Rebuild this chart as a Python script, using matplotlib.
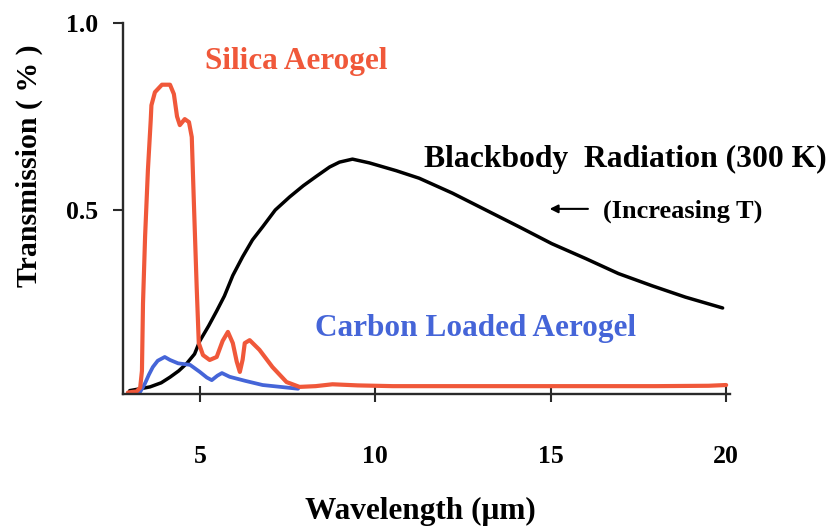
import matplotlib
matplotlib.use("Agg")
import matplotlib.pyplot as plt

# values
silica_x = [2.95, 3.2, 3.3, 3.35, 3.38, 3.44, 3.52, 3.6, 3.62, 3.72, 3.92, 4.15, 4.26, 4.35,
            4.43, 4.57, 4.69, 4.77, 4.83, 4.91, 4.97, 5.09, 5.28, 5.48, 5.65, 5.8, 5.94, 6.05,
            6.14, 6.22, 6.28, 6.42, 6.7, 7.07, 7.47, 7.84, 8.3, 8.78, 9.5, 10.5, 12, 14, 16,
            18, 19.5, 20.0]
silica_y = [0.012, 0.015, 0.025, 0.07, 0.25, 0.43, 0.607, 0.74, 0.78, 0.815, 0.835, 0.835, 0.81,
            0.75, 0.727, 0.743, 0.735, 0.695, 0.52, 0.294, 0.144, 0.112, 0.099, 0.107, 0.15,
            0.174, 0.144, 0.095, 0.067, 0.10, 0.144, 0.152, 0.126, 0.08, 0.04, 0.027, 0.029,
            0.034, 0.031, 0.029, 0.029, 0.029, 0.029, 0.029, 0.03, 0.032]

carbon_x = [3.24, 3.34, 3.44, 3.55, 3.66, 3.8, 4.0, 4.15, 4.38, 4.72, 5.0, 5.2, 5.34, 5.5,
            5.63, 5.85, 6.3, 6.79, 7.3, 7.8]
carbon_y = [0.005, 0.02, 0.037, 0.06, 0.08, 0.097, 0.107, 0.099, 0.09, 0.086, 0.067, 0.052,
            0.045, 0.057, 0.064, 0.054, 0.043, 0.032, 0.027, 0.022]

bb_x = [3.0, 3.3, 3.58, 3.9, 4.15, 4.4, 4.63, 4.85, 5.0, 5.25, 5.48, 5.7, 5.94, 6.22, 6.5,
        6.79, 7.15, 7.56, 7.95, 8.32, 8.7, 8.98, 9.35, 9.83, 10.6, 11.25, 12.2, 13.15, 14.1,
        15.03, 16.0, 16.93, 17.9, 18.84, 19.9]
bb_y = [0.017, 0.022, 0.027, 0.038, 0.053, 0.07, 0.09, 0.115, 0.15, 0.19, 0.23, 0.27, 0.325,
        0.375, 0.42, 0.455, 0.5, 0.535, 0.565, 0.59, 0.615, 0.628, 0.636, 0.626, 0.605, 0.585,
        0.545, 0.5, 0.455, 0.41, 0.37, 0.33, 0.297, 0.267, 0.238]

x_ticks = [5, 10, 15, 20]
y_ticks = [0.5, 1.0]

RED = '#F0583A'
BLUE = '#4565D8'
FONT = 'Liberation Serif'

plt.rcParams['font.family'] = [FONT, 'DejaVu Serif']
plt.rcParams['font.weight'] = 'bold'

fig = plt.figure(figsize=(8.33, 5.31), dpi=100)
ax = fig.add_axes([123/833, 1 - 394/531, (730 - 123)/833, (394 - 23)/531])

ax.plot(bb_x, bb_y, color='black', lw=2.5, solid_capstyle='round', solid_joinstyle='round')
ax.plot(carbon_x, carbon_y, color=BLUE, lw=2.7, solid_capstyle='round', solid_joinstyle='round')
ax.plot(silica_x, silica_y, color=RED, lw=3.0, solid_capstyle='round', solid_joinstyle='round')

ax.set_xlim(2.81, 20.11)
ax.set_ylim(0.008, 1.0)
ax.set_xticks(x_ticks)
ax.set_xticklabels([str(t) for t in x_ticks])
ax.set_yticks(y_ticks)
ax.set_yticklabels([f'{t:.1f}' for t in y_ticks])

for s in ['top', 'right']:
    ax.spines[s].set_visible(False)
for s in ['left', 'bottom']:
    ax.spines[s].set_color('#2a2a2a')
    ax.spines[s].set_linewidth(1.7)

ax.tick_params(axis='x', direction='inout', length=11.5, width=1.5, color='#2a2a2a',
               pad=31, labelsize=18.5)
ax.tick_params(axis='y', direction='out', length=7, width=1.5, color='#2a2a2a',
               pad=11, labelsize=18.5)

ax.text(7.76, 0.898, 'Silica Aerogel', color=RED, fontsize=22.5, fontweight='bold',
        ha='center', va='center')
ax.text(11.39, 0.634, 'Blackbody  Radiation (300 K)', color='black', fontsize=22.8,
        fontweight='bold', ha='left', va='center')
ax.text(16.5, 0.497, '(Increasing T)', color='black', fontsize=19, fontweight='bold',
        ha='left', va='center')
ax.text(8.27, 0.182, 'Carbon Loaded Aerogel', color=BLUE, fontsize=22.5, fontweight='bold',
        ha='left', va='center')
ax.annotate('', xy=(14.89, 0.503), xytext=(16.14, 0.503),
            arrowprops=dict(arrowstyle='-|>', lw=1.5, color='black', mutation_scale=12))

fig.text(420/833, 1 - 511/531, 'Wavelength (\u03bcm)', fontsize=22.5, fontweight='bold',
         ha='center', va='center')
fig.text(29/833, 1 - 166/531, 'Transmission ( % )', fontsize=21.5, fontweight='bold',
         ha='center', va='center', rotation=90)

fig.savefig('out.png', dpi=100)
